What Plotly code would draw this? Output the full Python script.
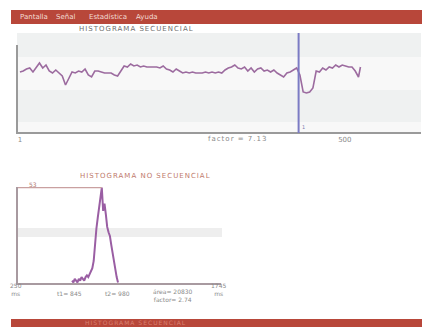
import plotly.graph_objects as go

# the page body keeps an 8px margin, so the figure is sized to fit the window
OFF = 8
W, H = 430 - OFF, 327 - OFF


def px(x):
    return (x - OFF) / W


def py(y):
    return 1 - (y - OFF) / H


# ---------------- data ----------------
menu_items = ["Pantalla", "Señal", "Estadística", "Ayuda"]
menu_x = [34, 65, 108, 147]

# sequential RR series (beat index, ms)
beats = list(range(1, 522, 5)) + [524]
rr_ms = [852, 861, 879, 888, 852, 897, 933, 888, 915, 861,
         843, 870, 843, 816, 735, 798, 852, 843, 861, 852,
         879, 825, 807, 861, 861, 852, 843, 843, 843, 825,
         816, 861, 906, 897, 924, 906, 915, 897, 906, 897,
         897, 897, 897, 888, 906, 879, 870, 852, 879, 861,
         843, 852, 843, 852, 843, 843, 843, 852, 843, 852,
         843, 852, 843, 870, 888, 897, 915, 888, 879, 897,
         861, 888, 852, 879, 888, 861, 870, 852, 870, 843,
         825, 807, 843, 852, 870, 888, 825, 672, 663, 672,
         708, 861, 852, 888, 870, 897, 888, 915, 897, 915,
         906, 897, 897, 861, 807, 897]
cursor_beat = 429
top_ticks = [1, 500]
top_factor = "factor = 7.13"

# non-sequential histogram (ms bins, counts)
hist_range = [250, 1745]
hist_bins = list(range(650, 1000, 10))
hist_counts = [1, 0, 2, 1, 0, 2, 1, 3, 2, 1,
               3, 4, 3, 5, 6, 8, 12, 22, 30, 36,
               42, 47, 53, 40, 44, 38, 31, 28, 26, 21,
               16, 12, 7, 3, 0]
t1, t2 = 845, 980
area = 20830
hist_factor = 2.74

# ---------------- figure ----------------
fig = go.Figure()

fig.add_trace(go.Scatter(x=beats, y=rr_ms, mode="lines",
                         line=dict(color="#9c6b9f", width=1.6),
                         xaxis="x", yaxis="y", hoverinfo="skip"))

fig.add_trace(go.Scatter(x=hist_bins, y=hist_counts, mode="lines",
                         line=dict(color="#9a5ea3", width=2),
                         xaxis="x2", yaxis="y2", hoverinfo="skip"))

peak = max(hist_counts)
peak_bin = hist_bins[hist_counts.index(peak)]
fig.add_trace(go.Scatter(x=[hist_range[0], peak_bin], y=[peak, peak], mode="lines",
                         line=dict(color="#c9a0a0", width=1.3),
                         xaxis="x2", yaxis="y2", hoverinfo="skip"))

axis_gray = "#9a9a9a"
label_gray = "#8a8a8a"
red = "#b8473a"

shapes = [
    # menu bar & bottom bar
    dict(type="rect", xref="paper", yref="paper", x0=px(11), x1=px(430), y0=py(24), y1=py(10),
         fillcolor=red, line=dict(width=0), layer="below"),
    dict(type="rect", xref="paper", yref="paper", x0=px(11), x1=px(430), y0=py(327), y1=py(319),
         fillcolor=red, line=dict(width=0), layer="below"),
    # top chart background bands
    dict(type="rect", xref="paper", yref="paper", x0=px(17), x1=px(421), y0=py(57), y1=py(33),
         fillcolor="#eff1f1", line=dict(width=0), layer="below"),
    dict(type="rect", xref="paper", yref="paper", x0=px(17), x1=px(421), y0=py(90), y1=py(57),
         fillcolor="#f8f8f8", line=dict(width=0), layer="below"),
    dict(type="rect", xref="paper", yref="paper", x0=px(17), x1=px(421), y0=py(122), y1=py(90),
         fillcolor="#eff1f1", line=dict(width=0), layer="below"),
    dict(type="rect", xref="paper", yref="paper", x0=px(17), x1=px(421), y0=py(132), y1=py(122),
         fillcolor="#f8f8f8", line=dict(width=0), layer="below"),
    # histogram band
    dict(type="rect", xref="paper", yref="paper", x0=px(18), x1=px(222), y0=py(237), y1=py(228),
         fillcolor="#eeeeee", line=dict(width=0), layer="below"),
    # cursor line
    dict(type="line", xref="x", yref="paper", x0=cursor_beat, x1=cursor_beat, y0=py(133), y1=py(33),
         line=dict(color="#7b7bc4", width=2), layer="above"),
]

LS = "letter-spacing:1px"


def ann(text, x, y, size=7, color=label_gray, xanchor="center"):
    return dict(text=text, x=px(x), y=py(y), xref="paper", yref="paper",
                showarrow=False, xanchor=xanchor, yanchor="middle",
                font=dict(size=size, color=color, family="DejaVu Sans"))


annotations = [ann(m, x, 17, size=7, color="#f3dcd5") for m, x in zip(menu_items, menu_x)]
annotations += [
    ann(f'<span style="{LS}">HISTOGRAMA SECUENCIAL</span>', 136, 29, size=7, color="#6f6f6f"),
    ann(f'<span style="{LS}">{top_factor}</span>', 238, 139, size=7, color=label_gray),
    ann("1", 303, 127, size=5, color="#8080b0"),
    ann(f'<span style="{LS}">HISTOGRAMA NO SECUENCIAL</span>', 145, 176, size=7, color="#c07a6c"),
    ann(str(peak), 33, 184, size=6, color="#b07a72"),
    ann(f"{hist_range[0]}<br>ms", 16, 289, size=6, color=label_gray),
    ann(f"{hist_range[1]}<br>ms", 218, 289, size=6, color=label_gray),
    ann(f"t1= {t1}", 70, 293, size=6, color=label_gray),
    ann(f"t2= {t2}", 117, 293, size=6, color=label_gray),
    ann(f"área= {area}<br>factor= {hist_factor}", 173, 295, size=6, color=label_gray),
    ann(f'<span style="{LS}">HISTOGRAMA SECUENCIAL</span>', 135, 322, size=6, color="#d88070"),
]

fig.update_layout(
    width=W, height=H, autosize=False,
    margin=dict(l=0, r=0, t=0, b=0),
    paper_bgcolor="white", plot_bgcolor="rgba(0,0,0,0)",
    showlegend=False,
    font=dict(family="DejaVu Sans", size=7, color=label_gray),
    xaxis=dict(domain=[px(18), px(421)], range=[-2, 617], anchor="y",
               showline=True, linecolor=axis_gray, linewidth=1.5,
               showgrid=False, zeroline=False, ticks="",
               tickvals=top_ticks, ticktext=[str(t) for t in top_ticks],
               tickfont=dict(size=7, color=label_gray)),
    yaxis=dict(domain=[py(132), py(45)], range=[312, 1095], anchor="x",
               showline=True, linecolor=axis_gray, linewidth=1.5,
               showgrid=False, zeroline=False, showticklabels=False, ticks=""),
    xaxis2=dict(domain=[px(18), px(221)], range=[hist_range[0], hist_range[1] + 7], anchor="y2",
                showline=True, linecolor="#a89aa0", linewidth=1.5,
                showgrid=False, zeroline=False, showticklabels=False, ticks=""),
    yaxis2=dict(domain=[py(283), py(187)], range=[-0.3, 53.3], anchor="x2",
                showline=True, linecolor="#a89aa0", linewidth=1.5,
                showgrid=False, zeroline=False, showticklabels=False, ticks=""),
    shapes=shapes,
    annotations=annotations,
)

fig.write_html("out.html")
